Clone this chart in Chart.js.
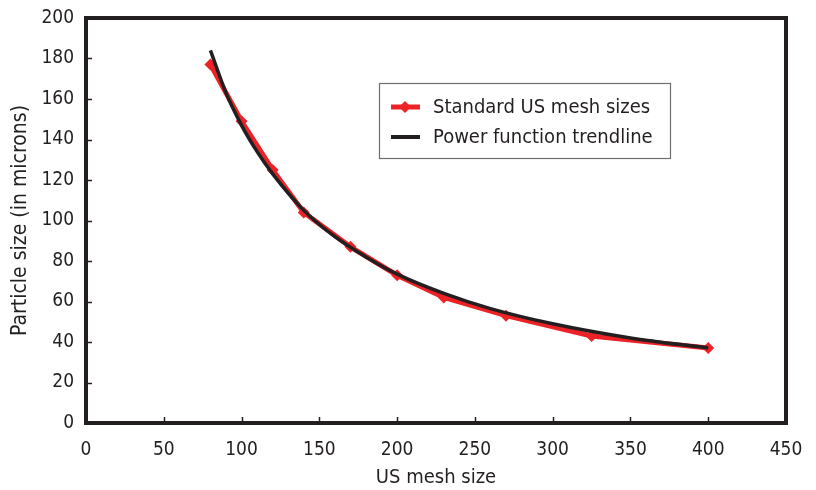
<!DOCTYPE html>
<html><head><meta charset="utf-8">
<script src="https://cdn.jsdelivr.net/npm/chart.js@4/dist/chart.umd.min.js"></script>
<style>html,body{margin:0;padding:0;background:#fff}#wrap{width:816px;height:490px}</style>
</head><body><div id="wrap"><canvas id="c" width="816" height="490"></canvas></div>
<script>
const meshSizes = [80, 100, 120, 140, 170, 200, 230, 270, 325, 400];
const particleSizes = [177, 149, 125, 104, 87, 73, 62, 53, 43, 37];
const trendMesh = [80, 90, 100, 110, 120, 140, 160, 180, 200, 230, 260, 300, 350, 400];
const trendSize = [184, 163, 147, 134, 123, 105, 92, 82, 73.5, 64, 56.5, 49, 42, 37];
const xTicks = [0, 50, 100, 150, 200, 250, 300, 350, 400, 450];
const yTicks = [0, 20, 40, 60, 80, 100, 120, 140, 160, 180, 200];
const seriesNames = ['Standard US mesh sizes', 'Power function trendline'];

const INK = '#231f20', RED = '#ec2227';
const FONT = '"DejaVu Sans Condensed", sans-serif';

const framePlugin = {
  id: 'frame',
  afterDraw(chart) {
    const {ctx, chartArea: a, scales} = chart;
    ctx.save();
    ctx.strokeStyle = INK; ctx.lineWidth = 1.5;
    xTicks.slice(1, -1).forEach(v => {
      const px = Math.round(scales.x.getPixelForValue(v)) + 0.5;
      ctx.beginPath(); ctx.moveTo(px, a.bottom); ctx.lineTo(px, a.bottom - 6); ctx.stroke();
    });
    yTicks.slice(1, -1).forEach(v => {
      const py = Math.round(scales.y.getPixelForValue(v)) + 0.5;
      ctx.beginPath(); ctx.moveTo(a.left, py); ctx.lineTo(a.left + 6, py); ctx.stroke();
    });
    ctx.lineWidth = 4;
    ctx.strokeRect(a.left, a.top, a.right - a.left, a.bottom - a.top);
    // legend
    const lx = 379, ly = 83, lw = 291, lh = 75;
    ctx.lineWidth = 1.2; ctx.strokeStyle = '#6d6e71';
    ctx.strokeRect(lx + 0.5, ly + 0.5, lw, lh);
    ctx.font = '20px ' + FONT; ctx.textBaseline = 'middle';
    const rows = [ly + 24, ly + 54];
    ctx.strokeStyle = RED; ctx.lineWidth = 5;
    ctx.beginPath(); ctx.moveTo(391, rows[0]); ctx.lineTo(420, rows[0]); ctx.stroke();
    ctx.fillStyle = RED; ctx.beginPath();
    ctx.moveTo(405, rows[0] - 6); ctx.lineTo(411, rows[0]); ctx.lineTo(405, rows[0] + 6); ctx.lineTo(399, rows[0]); ctx.closePath(); ctx.fill();
    ctx.strokeStyle = INK; ctx.lineWidth = 4;
    ctx.beginPath(); ctx.moveTo(391, rows[1]); ctx.lineTo(420, rows[1]); ctx.stroke();
    ctx.fillStyle = INK;
    ctx.fillText(seriesNames[0], 433, rows[0] + 1);
    ctx.fillText(seriesNames[1], 433, rows[1] + 1);
    ctx.restore();
  }
};

new Chart(document.getElementById('c'), {
  type: 'scatter',
  data: {
    datasets: [
      {
        label: seriesNames[1],
        data: trendMesh.map((x, i) => ({x, y: trendSize[i]})),
        showLine: true, borderColor: INK, borderWidth: 3.5, pointRadius: 0,
        cubicInterpolationMode: 'monotone', order: 0
      },
      {
        label: seriesNames[0],
        data: meshSizes.map((x, i) => ({x, y: particleSizes[i]})),
        showLine: true, borderColor: RED, backgroundColor: RED, borderWidth: 5,
        pointStyle: 'rectRot', pointRadius: 6, pointBorderWidth: 0, order: 1
      }
    ]
  },
  options: {
    responsive: false, animation: false,
    layout: {padding: {left: 0, top: 18, right: 30, bottom: 0}},
    plugins: {legend: {display: false}, tooltip: {enabled: false}},
    scales: {
      x: {
        type: 'linear', min: 0, max: 450,
        afterBuildTicks: s => { s.ticks = xTicks.map(v => ({value: v})); },
        afterFit: s => { s.height = 67; s.paddingLeft = 0; s.paddingRight = 0; },
        grid: {display: false, drawTicks: false},
        border: {display: false},
        ticks: {color: INK, font: {family: FONT, size: 19}, padding: 16},
        title: {display: true, text: 'US mesh size', color: INK, font: {family: FONT, size: 20}, padding: {top: 8, bottom: 0}}
      },
      y: {
        min: 0, max: 200,
        afterBuildTicks: s => { s.ticks = yTicks.map(v => ({value: v})); },
        afterFit: s => { s.width = 86; s.paddingTop = 0; s.paddingBottom = 0; },
        grid: {display: false, drawTicks: false},
        border: {display: false},
        ticks: {color: INK, font: {family: FONT, size: 19}, padding: 12},
        title: {display: true, text: 'Particle size (in microns)', color: INK, font: {family: FONT, size: 21}, padding: {top: 8, bottom: 4}}
      }
    }
  },
  plugins: [framePlugin]
});
</script></body></html>
